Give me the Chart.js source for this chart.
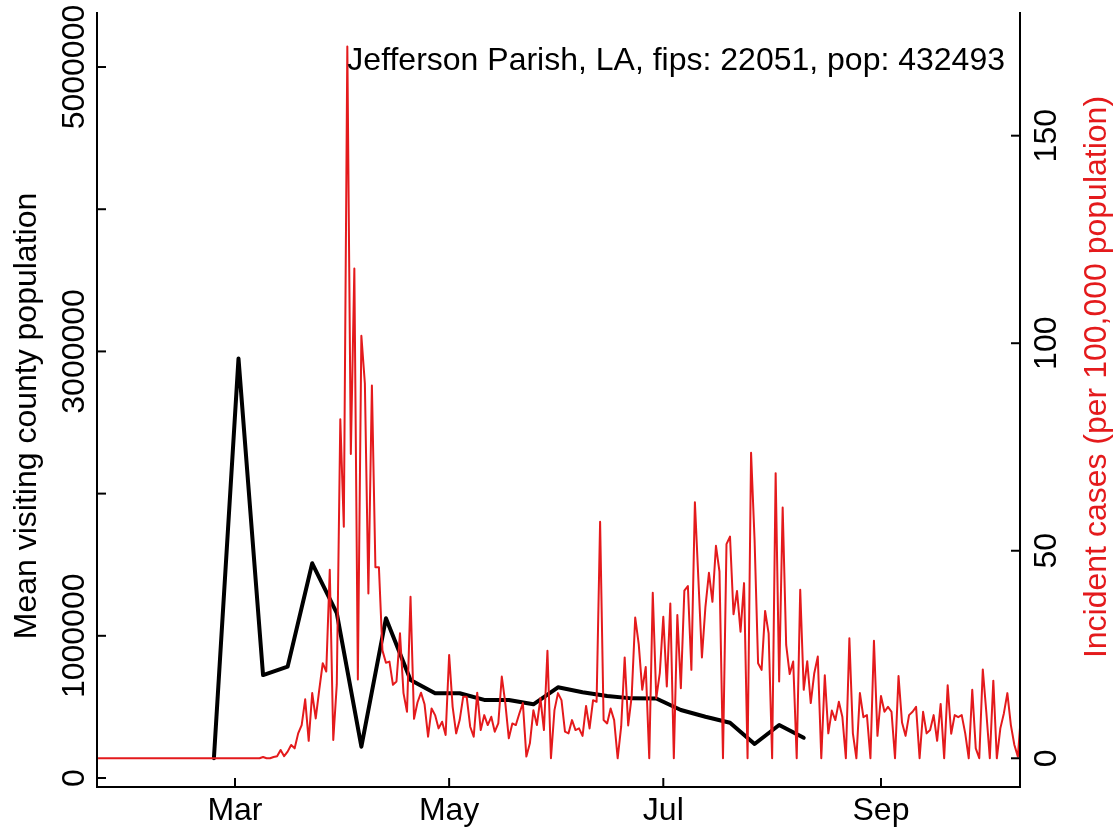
<!DOCTYPE html>
<html>
<head>
<meta charset="utf-8">
<script src="https://cdn.jsdelivr.net/npm/chart.js@4.4.1/dist/chart.umd.min.js"></script>
<style>
  html, body { margin: 0; padding: 0; background: #fff; }
</style>
</head>
<body>
<canvas id="parishChart" width="1118" height="832"></canvas>
<script>
// days are counted from Jan 1 2020 (= day 0)
const caseStartDay = 21; // Jan 22, first day of the case series

// daily incident cases per 100,000, one value per day from caseStartDay
const incidentCases = [
  0, 0, 0, 0, 0, 0, 0, 0, 0, 0,
  0, 0, 0, 0, 0, 0, 0, 0, 0, 0,
  0, 0, 0, 0, 0, 0, 0, 0, 0, 0,
  0, 0, 0, 0, 0, 0, 0, 0, 0, 0,
  0, 0, 0, 0, 0, 0, 0,
  0.3, 0, 0, 0.3, 0.5, 2, 0.5, 1.6, 3.2, 2.4,
  6, 8, 14.2, 4.2, 15.7, 9.6, 16.5, 22.9, 20.9, 45.4,
  4.4, 17.8, 81.7, 55.8, 171.5, 73.3, 118, 19, 101.8, 90.3,
  39.7, 89.8, 46, 46, 26, 23, 23.3, 17.7, 18.5, 30.1,
  15.7, 11.2, 38.9, 9.5, 13.5, 15.8, 13, 5.2, 12, 10.4,
  7.2, 8.8, 5.6, 24.9, 12.4, 6, 9.2, 14.8, 14.8, 7.6,
  5.2, 15.8, 6.8, 10.4, 8, 10, 6.4, 8.4, 19.7, 13.3,
  4.8, 8.4, 8, 10.8, 13.3, 0.4, 3.6, 11.6, 8, 14.5,
  6.8, 25.9, 0, 11.6, 15.7, 14, 6.4, 6, 9.2, 6.8,
  7.2, 5.4, 12.6, 7.2, 14, 13.6, 57, 9.2, 8.4, 12,
  9.2, 0, 7.6, 24.3, 7.9, 15, 33.9, 27.5, 16.5, 22,
  0, 39.9, 14.5, 20.5, 34.1, 17.3, 37.3, 0, 34.5, 16.9,
  40.4, 41.5, 21.3, 61.7, 43, 24.3, 36.5, 44.7, 37.7, 51.2,
  45, 0, 51.6, 53.4, 34.7, 40.3, 30.5, 42.2, 0, 73.6,
  52.6, 22.9, 21.3, 35.5, 30.1, 0, 68.7, 18.5, 60.4, 27.3,
  20.3, 23.3, 0, 40.6, 16.5, 23.4, 13.3, 20.5, 24.5, 0,
  20, 6, 11.5, 9.2, 13.6, 10, 0, 28.9, 6, 0,
  15.7, 9.9, 10.4, 0, 28.3, 5.4, 15, 11.2, 12.4, 11.2,
  0, 19.8, 8.6, 5.4, 10.4, 11.2, 12.4, 0, 11.2, 6,
  6.8, 10.4, 4.2, 13.1, 0, 17.6, 5.9, 10.4, 9.9, 10.4,
  6, 0, 16.5, 2.4, 0, 21.4, 11.2, 0, 18.7, 0,
  7.2, 10.8, 15.7, 8, 3.2, 0.4, 12
];

// weekly mean visiting county population
const visitDays = [54, 61, 68, 75, 82, 89, 96, 103, 110, 117, 124, 131, 138,
                   145, 152, 159, 166, 173, 180, 187, 194, 201, 208, 215, 222];
const meanVisitingPop = [139000, 2950000, 724000, 783000, 1510000, 1160000, 220000,
                         1123000, 689000, 596000, 596000, 549000, 549000, 518000,
                         638000, 603000, 577000, 560000, 559000, 478000, 431000,
                         389000, 239000, 373000, 283000];

const monthTickDays = [60, 121, 182, 244];
const monthTickLabels = ['Mar', 'May', 'Jul', 'Sep'];
const leftTicks = [0, 1000000, 2000000, 3000000, 4000000, 5000000];
const leftTickLabels = ['0', '1000000', '', '3000000', '', '5000000'];
const rightTicks = [0, 50, 100, 150];
const rightTickLabels = ['0', '50', '100', '150'];
const leftTitle = 'Mean visiting county population';
const rightTitle = 'Incident cases (per 100,000 population)';
const plotLabel = 'Jefferson Parish, LA, fips: 22051, pop: 432493';

const RED = '#E41A1C';
const FONT = "32px 'Liberation Sans', Arial, sans-serif";

const casePoints = incidentCases.map((v, i) => ({x: caseStartDay + i, y: v}));
const visitPoints = visitDays.map((d, i) => ({x: d, y: meanVisitingPop[i]}));

// R style frame: axes lines, inward ticks, rotated y labels
const rAxes = {
    id: 'rAxes',
    afterDatasetsDraw(chart) {
        const {ctx, chartArea: a, scales} = chart;
        const tick = 9;
        ctx.save();
        ctx.strokeStyle = '#000';
        ctx.lineWidth = 2;
        ctx.beginPath();
        ctx.moveTo(a.left, a.top);
        ctx.lineTo(a.left, a.bottom);
        ctx.lineTo(a.right, a.bottom);
        ctx.lineTo(a.right, a.top);
        ctx.stroke();

        ctx.font = FONT;
        ctx.fillStyle = '#000';
        ctx.textAlign = 'center';
        ctx.textBaseline = 'middle';

        monthTickDays.forEach((d, i) => {
            const x = scales.x.getPixelForValue(d);
            ctx.beginPath();
            ctx.moveTo(x, a.bottom);
            ctx.lineTo(x, a.bottom - tick);
            ctx.stroke();
            ctx.fillText(monthTickLabels[i], x, 811);
        });

        leftTicks.forEach((v, i) => {
            const y = scales.yLeft.getPixelForValue(v);
            ctx.beginPath();
            ctx.moveTo(a.left, y);
            ctx.lineTo(a.left + tick, y);
            ctx.stroke();
            if (leftTickLabels[i]) {
                ctx.save();
                ctx.translate(75, y);
                ctx.rotate(-Math.PI / 2);
                ctx.fillText(leftTickLabels[i], 0, 0);
                ctx.restore();
            }
        });

        rightTicks.forEach((v, i) => {
            const y = scales.yRight.getPixelForValue(v);
            ctx.beginPath();
            ctx.moveTo(a.right, y);
            ctx.lineTo(a.right - tick, y);
            ctx.stroke();
            ctx.save();
            ctx.translate(1047, y);
            ctx.rotate(-Math.PI / 2);
            ctx.fillText(rightTickLabels[i], 0, 0);
            ctx.restore();
        });

        ctx.save();
        ctx.translate(27, 416);
        ctx.rotate(-Math.PI / 2);
        ctx.fillText(leftTitle, 0, 0);
        ctx.restore();

        ctx.save();
        ctx.fillStyle = RED;
        ctx.translate(1097, 377);
        ctx.rotate(-Math.PI / 2);
        ctx.fillText(rightTitle, 0, 0);
        ctx.restore();

        ctx.textAlign = 'right';
        ctx.textBaseline = 'alphabetic';
        ctx.fillText(plotLabel, 1005, 70);
        ctx.restore();
    }
};

new Chart(document.getElementById('parishChart'), {
    type: 'line',
    data: {
        datasets: [
            {
                label: 'Incident cases',
                data: casePoints,
                yAxisID: 'yRight',
                borderColor: RED,
                borderWidth: 2,
                pointRadius: 0,
                tension: 0,
                borderJoinStyle: 'round',
                order: 0
            },
            {
                label: 'Mean visiting county population',
                data: visitPoints,
                yAxisID: 'yLeft',
                borderColor: '#000',
                borderWidth: 4,
                pointRadius: 0,
                tension: 0,
                borderJoinStyle: 'round',
                borderCapStyle: 'round',
                order: 1
            }
        ]
    },
    options: {
        responsive: false,
        animation: false,
        devicePixelRatio: 1,
        layout: {padding: {left: 97, right: 98, top: 12, bottom: 45}},
        plugins: {legend: {display: false}, tooltip: {enabled: false}},
        scales: {
            x: {type: 'linear', display: false, min: 20.7, max: 283.6},
            yLeft: {type: 'linear', position: 'left', display: false, min: -63300, max: 5387000},
            yRight: {type: 'linear', position: 'right', display: false, min: -6.92, max: 179.8}
        }
    },
    plugins: [rAxes]
});
</script>
</body>
</html>
